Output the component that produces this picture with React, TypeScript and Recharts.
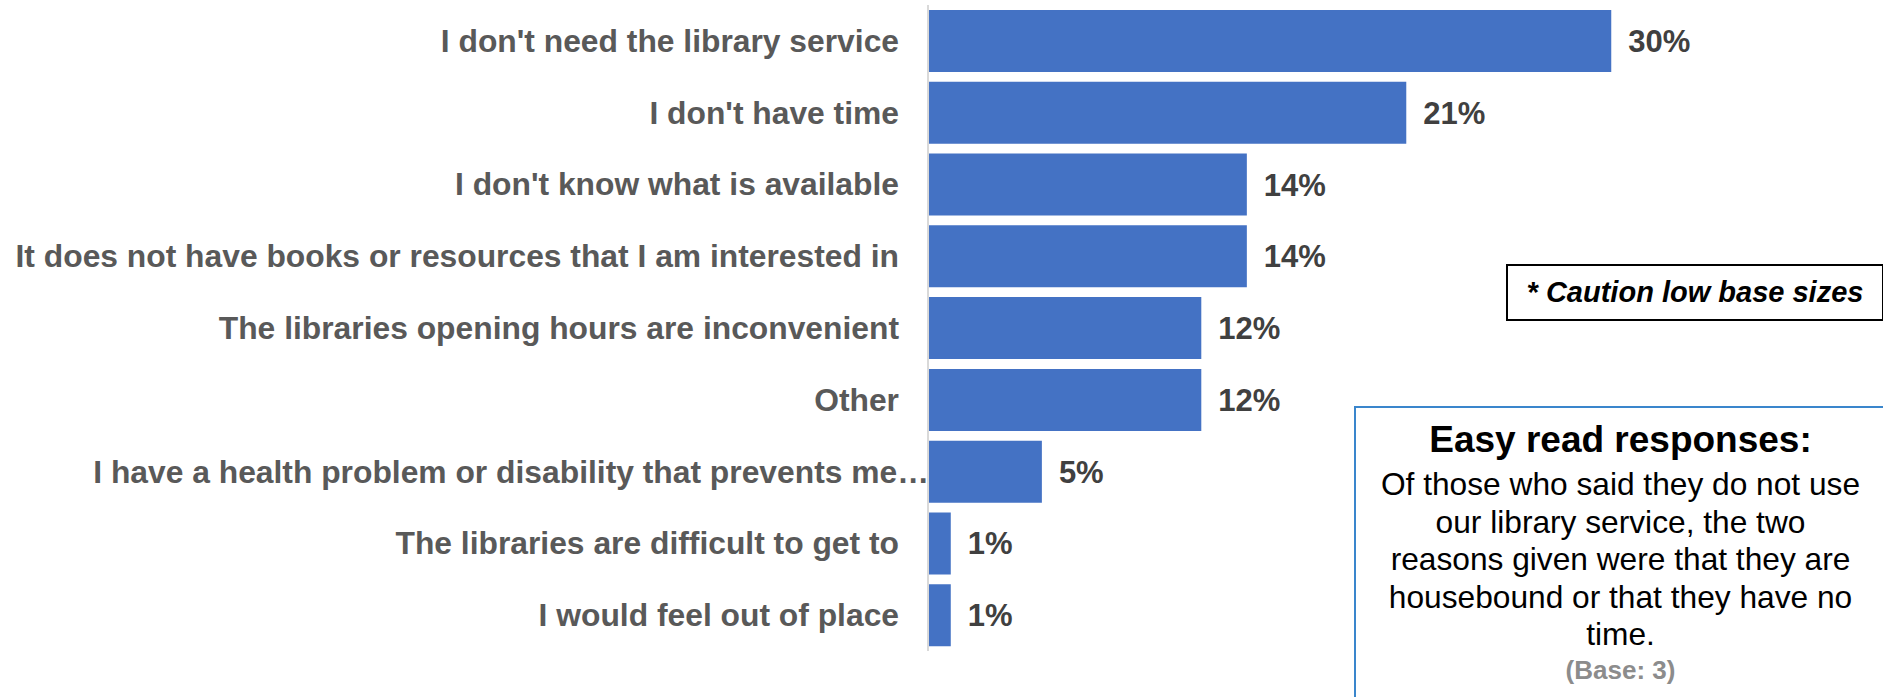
import { BarChart, Bar, XAxis, YAxis, LabelList } from "recharts";

const reasons = [
    "I don't need the library service",
    "I don't have time",
    "I don't know what is available",
    "It does not have books or resources that I am interested in",
    "The libraries opening hours are inconvenient",
    "Other",
    "I have a health problem or disability that prevents me…",
    "The libraries are difficult to get to",
    "I would feel out of place",
];

const percents = [30, 21, 14, 14, 12, 12, 5, 1, 1];

const cautionNote = "* Caution low base sizes";
const easyReadTitle = "Easy read responses:";
const easyReadLines = [
    "Of those who said they do not use",
    "our library service, the two",
    "reasons given were that they are",
    "housebound or that they have no",
    "time.",
];
const easyReadBase = "(Base: 3)";

const FONT = '"Liberation Sans", Arial, sans-serif';

const data = reasons.map((reason, i) => ({ reason, pct: percents[i] }));

const CategoryTick = (props: any) => {
    const { x, y, payload } = props;
    // the truncated label sits right up against the axis
    const truncated = String(payload.value).endsWith("…");
    return (
        <text
            x={x}
            y={y}
            dx={truncated ? 30 : 0}
            dy={11}
            textAnchor="end"
            fill="#595959"
            fontSize={31.8}
            fontWeight="bold"
            fontFamily={FONT}
        >
            {payload.value}
        </text>
    );
};

const App = () => {
    return (
        <div
            style={{
                position: "absolute",
                left: 0,
                top: 0,
                width: 1883,
                height: 697,
                overflow: "hidden",
                background: "#fff",
                fontFamily: FONT,
            }}
        >
            <BarChart
                width={1883}
                height={697}
                data={data}
                layout="vertical"
                margin={{ top: 5, right: 44, bottom: 46, left: 0 }}
            >
                <XAxis type="number" domain={[0, 40]} hide />
                <YAxis
                    type="category"
                    dataKey="reason"
                    width={928}
                    axisLine={{ stroke: "#D9D9D9", strokeWidth: 2 }}
                    tickLine={false}
                    tickSize={0}
                    tickMargin={29}
                    interval={0}
                    tick={<CategoryTick />}
                />
                <Bar dataKey="pct" fill="#4472C4" barSize={62} isAnimationActive={false}>
                    <LabelList
                        dataKey="pct"
                        position="right"
                        offset={17}
                        formatter={(v: number) => `${v}%`}
                        fill="#404040"
                        fontSize={31}
                        fontWeight="bold"
                        fontFamily={FONT}
                    />
                </Bar>
            </BarChart>

            <div
                style={{
                    position: "absolute",
                    left: 1506,
                    top: 264,
                    width: 378,
                    height: 57,
                    boxSizing: "border-box",
                    border: "2px solid #000",
                    textAlign: "center",
                    lineHeight: "53px",
                    fontSize: 29,
                    fontWeight: "bold",
                    fontStyle: "italic",
                    color: "#000",
                    whiteSpace: "nowrap",
                }}
            >
                {cautionNote}
            </div>

            <div
                style={{
                    position: "absolute",
                    left: 1354,
                    top: 406,
                    width: 533,
                    height: 320,
                    boxSizing: "border-box",
                    border: "2px solid #3A86CC",
                    textAlign: "center",
                    color: "#000",
                    paddingTop: 5,
                    whiteSpace: "nowrap",
                }}
            >
                <div style={{ fontSize: 37, fontWeight: "bold", lineHeight: "53px" }}>{easyReadTitle}</div>
                {easyReadLines.map((line) => (
                    <div key={line} style={{ fontSize: 31.7, lineHeight: "37.6px" }}>
                        {line}
                    </div>
                ))}
                <div style={{ fontSize: 26, fontWeight: "bold", lineHeight: "32px", color: "#8C8C8C" }}>
                    {easyReadBase}
                </div>
            </div>
        </div>
    );
};

export default App;
